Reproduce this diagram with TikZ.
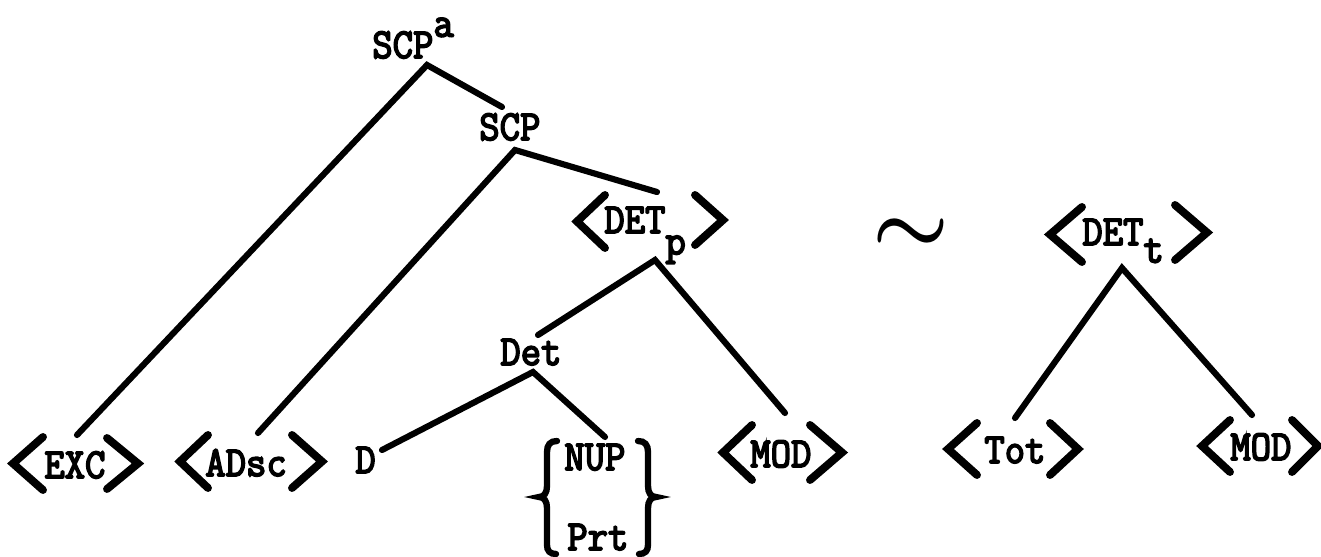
\documentclass[tikz,border=0pt]{standalone}
\usepackage{fontspec}
\newfontfamily\twfont[FakeBold=4]{Latin Modern Mono}
\usetikzlibrary{calc}
\newcommand\tw[1]{\scalebox{1}[1.08]{#1}}
\newcommand\chev[4]{\draw[chevron] (#1,#3) -- (#2,{(#3+#4)/2}) -- (#1,#4);}
\begin{document}
\begin{tikzpicture}[x=0.02cm,y=-0.02cm,
  lbl/.style={anchor=base west, inner sep=0pt, font=\twfont\fontsize{22.5}{26}\selectfont},
  branch/.style={line width=3.5pt, line cap=round},
  chevron/.style={line width=4.5pt, line cap=round, line join=miter},
  bracepath/.style={line width=3.6pt, line cap=round}]
\useasboundingbox (0,0) rectangle (1321,557);

% labels
\node[lbl] (scpa) at (372,58) {\tw{SCP\raisebox{0.5em}{a}}};
\node[lbl] (scp)  at (479,140) {\tw{SCP}};
\node[lbl] (detp) at (604,233) {\tw{DET\raisebox{-0.5em}{p}}};
\node[lbl] (det)  at (500,365) {\tw{Det}};
\node[lbl] (exc)  at (44,478) {\tw{EXC}};
\node[lbl] (adsc) at (205,476) {\tw{ADsc}};
\node[lbl] (d)    at (355,473) {\tw{D}};
\node[lbl] (nup)  at (564,470) {\tw{NUP}};
\node[lbl] (prt)  at (567,550) {\tw{Prt}};
\node[lbl] (modA) at (750,467) {\tw{MOD}};
\node[lbl] (dett) at (1082,245) {\tw{DET\raisebox{-0.41em}{t}}};
\node[lbl] (tot)  at (984,463) {\tw{Tot}};
\node[lbl] (modB) at (1230,460) {\tw{MOD}};
\node[inner sep=0pt] (tilde) at (911,236) {\scalebox{4.9}{\boldmath$\sim$}};

% joints
\coordinate (scpa-b) at (427,65);
\coordinate (scp-t)  at (502,107);
\coordinate (scp-b)  at (515,150);
\coordinate (detp-t) at (657,192);
\coordinate (detp-b) at (655,260);
\coordinate (det-t)  at (538,335);
\coordinate (det-b)  at (533,372);
\coordinate (exc-t)  at (77,435);
\coordinate (adsc-t) at (258,433);
\coordinate (d-t)    at (382,450);
\coordinate (nup-t)  at (605,437);
\coordinate (modA-t) at (785,413);
\coordinate (dett-b) at (1122,268);
\coordinate (tot-t)  at (1015,418);
\coordinate (modB-t) at (1252,415);

% branches
\draw[branch] (exc-t) -- (scpa-b) -- (scp-t);
\draw[branch] (adsc-t) -- (scp-b) -- (detp-t);
\draw[branch] (det-t) -- (detp-b) -- (modA-t);
\draw[branch] (d-t) -- (det-b) -- (nup-t);
\draw[branch] (tot-t) -- (dett-b) -- (modB-t);

% angle brackets
\chev{43}{13}{437}{490}   \chev{107}{138}{438}{489}
\chev{208}{180}{435}{488} \chev{292}{322}{435}{488}
\chev{605}{577}{195}{248} \chev{695}{723}{195}{245}
\chev{752}{723}{425}{480} \chev{810}{842}{425}{480}
\chev{1082}{1050}{207}{262} \chev{1175}{1207}{205}{260}
\chev{977}{948}{423}{475} \chev{1050}{1078}{423}{475}
\chev{1230}{1202}{420}{472} \chev{1292}{1318}{420}{472}

% braces
\draw[bracepath] (557,441) .. controls (550,441) and (547,445) .. (547,452) -- (547,486)
  .. controls (547,493) and (544,497) .. (539,497)
  .. controls (544,497) and (547,501) .. (547,508) -- (547,545)
  .. controls (547,551) and (550,554) .. (556,554);
\draw[bracepath] (638,441) .. controls (645,441) and (648,445) .. (648,452) -- (648,486)
  .. controls (648,493) and (651,497) .. (656,497)
  .. controls (651,497) and (648,501) .. (648,508) -- (648,545)
  .. controls (648,551) and (645,554) .. (639,554);
\end{tikzpicture}
\end{document}
